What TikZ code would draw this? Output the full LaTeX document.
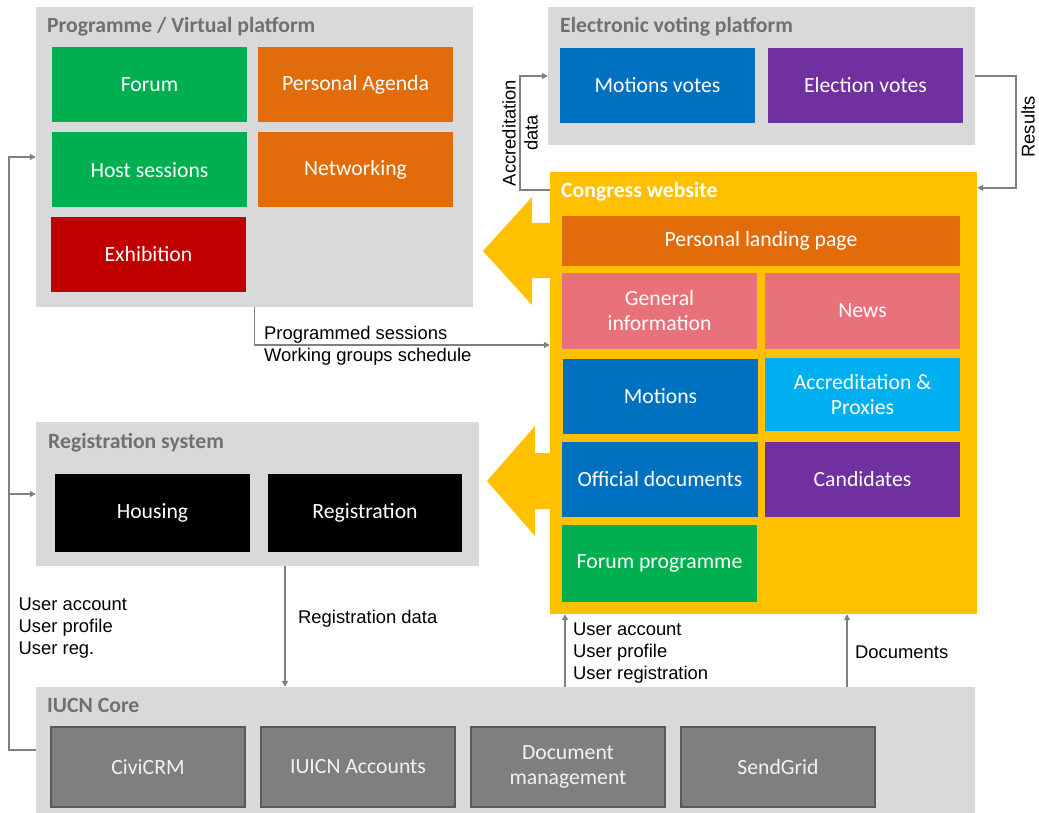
\documentclass[tikz,border=0pt]{standalone}
\usepackage{fontspec}
\setmainfont{Carlito}
\newfontfamily\arialfont{Liberation Sans}
\usetikzlibrary{positioning,calc,arrows.meta}

\definecolor{panelgray}{HTML}{D9D9D9}
\definecolor{titlegray}{HTML}{707070}
\definecolor{conngray}{HTML}{808080}
\definecolor{webyellow}{HTML}{FFC000}
\definecolor{boxgreen}{HTML}{00B050}
\definecolor{boxorange}{HTML}{E36C0A}
\definecolor{boxred}{HTML}{C00000}
\definecolor{boxblue}{HTML}{0070C0}
\definecolor{boxpurple}{HTML}{7030A0}
\definecolor{boxpink}{HTML}{E9717A}
\definecolor{boxcyan}{HTML}{00B0F0}
\definecolor{coregray}{HTML}{7F7F7F}
\definecolor{coreedge}{HTML}{595959}

\begin{document}
\begin{tikzpicture}[x=1pt, y=-1pt]
\tikzstyle{panel} = [fill=panelgray, inner sep=0];
\tikzstyle{ttl} = [anchor=base west, inner sep=0, text=titlegray, font=\fontsize{21.7}{25}\selectfont\bfseries];
\tikzstyle{box} = [minimum width=195pt, minimum height=75pt, inner sep=0, align=center, text=white, font=\fontsize{21.7}{25}\selectfont];
\tikzstyle{corebox} = [box, fill=coregray, draw=coreedge, line width=2.5pt, text=white!95!black, minimum width=194pt, minimum height=80pt];
\tikzstyle{note} = [align=left, inner sep=2pt, font=\arialfont\fontsize{18.4}{22}\selectfont];
\tikzstyle{conn} = [draw=conngray, line width=1.6pt, -{Triangle[length=6pt,width=6pt]}];

\useasboundingbox (0,0) rectangle (1039,813);

\node[panel, minimum width=437pt, minimum height=300pt] (prog) at (254.5,157) {};
\node[panel, minimum width=427pt, minimum height=138pt] (vote) at (761.5,76) {};
\node[fill=webyellow, inner sep=0, minimum width=427pt, minimum height=442pt] (web) at (763.5,393) {};
\node[panel, minimum width=443pt, minimum height=144pt] (reg) at (257.5,494) {};
\node[panel, minimum width=939pt, minimum height=126pt] (core) at (505.5,750) {};

\fill[webyellow] (551,223) -- (532,223) -- (532,197) -- (483,251) -- (532,305) -- (532,278) -- (551,278) -- cycle;
\fill[webyellow] (551,453) -- (535,453) -- (535,426) -- (487,481) -- (535,536) -- (535,509) -- (551,509) -- cycle;

\node[ttl] (progt) at (47,33) {Programme / Virtual platform};
\node[ttl] (votet) at (560,33) {Electronic voting platform};
\node[ttl, text=white] (webt) at (561,198) {Congress website};
\node[ttl] (regt) at (48,448) {Registration system};
\node[ttl] (coret) at (47,712) {IUCN Core};

\node[box, fill=boxgreen] (forum) at (149.5,84.5) {Forum};
\node[box, fill=boxorange] (agenda) at (355.5,84.5) {Personal Agenda};
\node[box, fill=boxgreen] (host) at (149.5,170) {Host sessions};
\node[box, fill=boxorange] (netw) at (355.5,170) {Networking};
\node[box, fill=boxred] (exhib) at (148.5,254.5) {Exhibition};

\node[box, fill=boxblue] (mvotes) at (657.5,85.5) {Motions votes};
\node[box, fill=boxpurple] (evotes) at (865.5,85.5) {Election votes};

\node[box, fill=boxorange, minimum width=398pt, minimum height=50pt] (landing) at (761,241) {Personal landing page};
\node[box, fill=boxpink, minimum height=76pt] (geninfo) at (659.5,311) {General\\information};
\node[box, fill=boxpink, minimum height=76pt] (news) at (862.5,311) {News};
\node[box, fill=boxblue] (motions) at (660.5,396.5) {Motions};
\node[box, fill=boxcyan, minimum height=73pt] (accr) at (862.5,394.5) {Accreditation \&\\Proxies};
\node[box, fill=boxblue, minimum width=196pt] (offdoc) at (660,479.5) {Official documents};
\node[box, fill=boxpurple] (cand) at (862.5,479.5) {Candidates};
\node[box, fill=boxgreen, minimum height=77pt] (forprog) at (659.5,563.5) {Forum programme};

\node[box, fill=black, minimum height=78pt] (housing) at (152.5,513) {Housing};
\node[box, fill=black, minimum width=194pt, minimum height=78pt] (registr) at (365,513) {Registration};

\node[corebox] (civi) at (148,767) {CiviCRM};
\node[corebox] (accts) at (358,767) {IUICN Accounts};
\node[corebox] (docm) at (568,767) {Document\\management};
\node[corebox] (sendg) at (778,767) {SendGrid};

\coordinate (lft) at (9,750);
\coordinate (acc) at (520,133);
\coordinate (res) at (1016,127);
\coordinate (rd) at ([xshift=27.5pt]reg.south);
\coordinate (ua) at (565,650);
\coordinate (dc) at (847,650);

\draw[conn] (core.west) -- (lft) |- (prog.west);
\draw[conn] (lft |- reg.west) -- (reg.west);
\draw[conn] (prog.south) |- ([yshift=48pt]web.west);
\draw[conn] (rd) -- (rd |- core.north);
\draw[conn] (core.north -| ua) -- (web.south -| ua);
\draw[conn] (core.north -| dc) -- (web.south -| dc);
\draw[conn] ([yshift=-18pt]web.north west) -| (acc) |- (vote.west);
\draw[conn] (vote.east) -| (res) |- ([yshift=-16pt]web.north east);

\node[note, anchor=west] (lblprog) at (262,345.5) {Programmed sessions\\Working groups schedule};
\node[note, anchor=west] (lblleft) at (16.5,628.5) {User account\\User profile\\User reg.};
\node[note, anchor=base west, inner sep=0] (lblregd) at (298,623) {Registration data};
\node[note, anchor=west] (lbluser) at (571,653.5) {User account\\User profile\\User registration};
\node[note, anchor=base west, inner sep=0] (lbldocs) at (855,658) {Documents};
\node[note, align=center, rotate=90] (lblacc) at (acc) {Accreditation\\data};
\node[note, rotate=90, anchor=north, inner sep=5pt] (lblres) at (res) {Results};
\end{tikzpicture}
\end{document}
